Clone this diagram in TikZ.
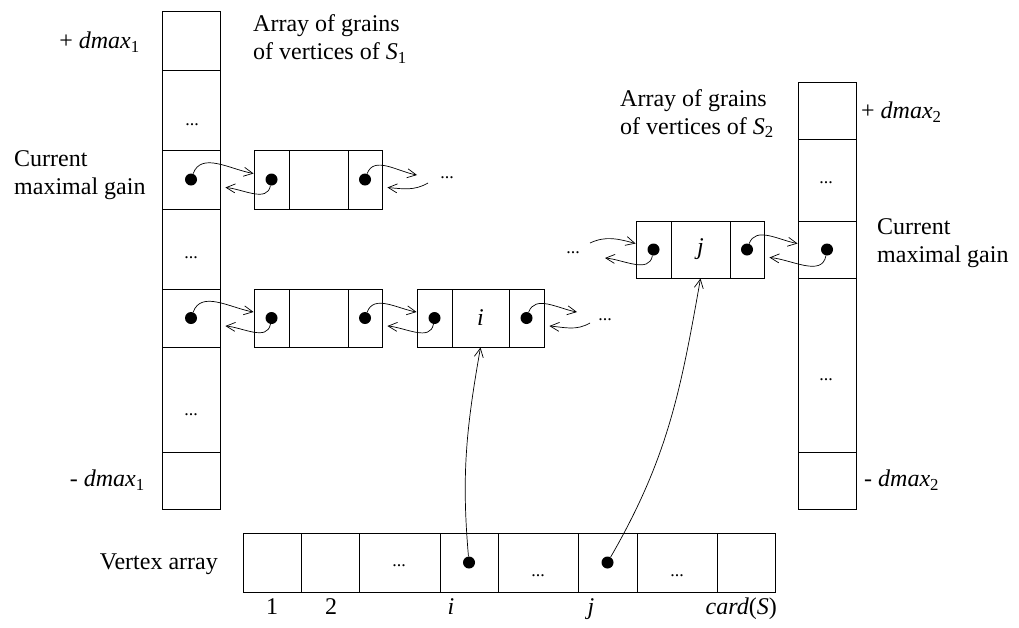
\documentclass[tikz,border=0pt]{standalone}
\usepackage{fontspec}
\setmainfont{Liberation Serif}
\usepackage{tikz}
\usetikzlibrary{arrows.meta}

\begin{document}
\begin{tikzpicture}[x=1pt,y=1pt,font=\fontsize{24}{28}\selectfont]
\tikzstyle{caixa}=[draw, line width=0.9pt, inner sep=0pt]
\tikzstyle{ponto}=[circle, fill, inner sep=0pt, minimum size=12pt]
\tikzstyle{seta}=[line width=0.7pt, -{Straight Barb[length=9pt,width=9pt]}]
\tikzstyle{rotulo}=[inner sep=0pt, align=left]
\tikzstyle{reticencias}=[inner sep=0pt, font=\fontsize{18}{18}\selectfont]
\useasboundingbox (0,0) rectangle (1019,-627);
 % left array
 \node[caixa, minimum width=58pt, minimum height=59pt] (L1) at (191,-40.5) {};
 \node[caixa, minimum width=58pt, minimum height=80pt] (L2) at (191,-110) {};
 \node[caixa, minimum width=58pt, minimum height=59pt] (L3) at (191,-179.5) {};
 \node[caixa, minimum width=58pt, minimum height=80pt] (L4) at (191,-249) {};
 \node[caixa, minimum width=58pt, minimum height=58pt] (L5) at (191,-318) {};
 \node[caixa, minimum width=58pt, minimum height=105pt] (L6) at (191,-399.5) {};
 \node[caixa, minimum width=58pt, minimum height=57pt] (L7) at (191,-480.5) {};
 \node[reticencias] (rL2) at (192,-125) {...};
 \node[reticencias] (rL4) at (191,-258) {...};
 \node[reticencias] (rL6) at (191,-415) {...};
 % right array
 \node[caixa, minimum width=58pt, minimum height=57pt] (R1) at (827,-110.5) {};
 \node[caixa, minimum width=58pt, minimum height=82pt] (R2) at (827,-180) {};
 \node[caixa, minimum width=58pt, minimum height=57pt] (R3) at (827,-249.5) {};
 \node[caixa, minimum width=58pt, minimum height=174pt] (R4) at (827,-365) {};
 \node[caixa, minimum width=58pt, minimum height=57pt] (R5) at (827,-480.5) {};
 \node[reticencias] (rR2) at (826,-183) {...};
 \node[reticencias] (rR4) at (826,-380) {...};
 % lists
 \node[caixa, minimum width=35pt, minimum height=59pt] (A1) at (271.5,-179.5) {};
 \node[caixa, minimum width=59pt, minimum height=59pt] (A2) at (318.5,-179.5) {};
 \node[caixa, minimum width=34pt, minimum height=59pt] (A3) at (365,-179.5) {};
 \node[caixa, minimum width=35pt, minimum height=58pt] (B1) at (271.5,-318) {};
 \node[caixa, minimum width=59pt, minimum height=58pt] (B2) at (318.5,-318) {};
 \node[caixa, minimum width=34pt, minimum height=58pt] (B3) at (365,-318) {};
 \node[caixa, minimum width=35pt, minimum height=58pt] (C1) at (434.5,-318) {};
 \node[caixa, minimum width=57pt, minimum height=58pt] (C2) at (480.5,-318) {\textit{i}};
 \node[caixa, minimum width=35pt, minimum height=58pt] (C3) at (526.5,-318) {};
 \node[caixa, minimum width=35pt, minimum height=57pt] (J1) at (653.5,-249.5) {};
 \node[caixa, minimum width=59pt, minimum height=57pt] (J2) at (700.5,-249.5) {\textit{j}};
 \node[caixa, minimum width=34pt, minimum height=57pt] (J3) at (747,-249.5) {};
 % vertex array
 \foreach \n/\cx/\w in {1/272/58, 2/330/58, 3/399.5/81, 4/469/58, 5/538/80, 6/607.5/59, 7/677/80, 8/746/58}
   \node[caixa, minimum width=\w pt, minimum height=59pt] (V\n) at (\cx,-562.5) {};
 \node[reticencias] (rV3) at (399,-566) {...};
 \node[reticencias] (rV5) at (538,-576) {...};
 \node[reticencias] (rV7) at (677,-576) {...};
 % pointers
 \node[ponto] (pL3) at (L3) {};
 \node[ponto] (pL5) at (L5) {};
 \node[ponto] (pA1) at (A1) {};
 \node[ponto] (pA3) at (A3) {};
 \node[ponto] (pB1) at (B1) {};
 \node[ponto] (pB3) at (B3) {};
 \node[ponto] (pC1) at (C1) {};
 \node[ponto] (pC3) at (C3) {};
 \node[ponto] (pJ1) at (J1) {};
 \node[ponto] (pJ3) at (J3) {};
 \node[ponto] (pR3) at (R3) {};
 \node[ponto] (pV4) at (V4) {};
 \node[ponto] (pV6) at (V6) {};
 \coordinate (fA) at (417,-175);
 \coordinate (bA) at (428,-183);
 \coordinate (fC) at (577,-312);
 \coordinate (bC) at (590,-323);
 \coordinate (fJ) at (590,-243);
 \coordinate (bJ) at (605,-258);
 \node[reticencias] (rA) at (447,-178) {...};
 \node[reticencias] (rC) at (605,-320) {...};
 \node[reticencias] (rJ) at (573,-253) {...};
 \draw[seta] (pL3) to[out=70,in=170] ([yshift=6pt]A1.west);
 \draw[seta] (pA1) to[out=-100,in=-5] ([xshift=5pt,yshift=-8pt]L3.east);
 \draw[seta] (pA3) to[out=70,in=170] (fA);
 \draw[seta] (bA) to[out=-150,in=-5] ([xshift=5pt,yshift=-8pt]A3.east);
 \draw[seta] (pL5) to[out=70,in=170] ([yshift=6pt]B1.west);
 \draw[seta] (pB1) to[out=-100,in=-5] ([xshift=5pt,yshift=-8pt]L5.east);
 \draw[seta] (pB3) to[out=70,in=170] ([yshift=6pt]C1.west);
 \draw[seta] (pC1) to[out=-100,in=-5] ([xshift=5pt,yshift=-8pt]B3.east);
 \draw[seta] (pC3) to[out=70,in=170] (fC);
 \draw[seta] (bC) to[out=-150,in=-5] ([xshift=5pt,yshift=-8pt]C3.east);
 \draw[seta] (fJ) to[out=25,in=165] ([yshift=6pt]J1.west);
 \draw[seta] (pJ1) to[out=-100,in=-5] (bJ);
 \draw[seta] (pJ3) to[out=70,in=170] ([yshift=6pt]R3.west);
 \draw[seta] (pR3) to[out=-100,in=-5] ([xshift=5pt,yshift=-8pt]J3.east);
 \draw[seta] (pV4) to[out=95,in=-100] (C2.south);
 \draw[seta] (pV6) to[out=60,in=-100] (J2.south);
 % labels
 \node[rotulo, anchor=east] (max1) at (140,-42) {+ \textit{dmax}\textsubscript{1}};
 \node[rotulo, anchor=east] (min1) at (145,-480) {- \textit{dmax}\textsubscript{1}};
 \node[rotulo, anchor=west] (max2) at (861,-112) {+ \textit{dmax}\textsubscript{2}};
 \node[rotulo, anchor=west] (min2) at (864,-480) {- \textit{dmax}\textsubscript{2}};
 \node[rotulo, anchor=west] (arranjo1) at (253,-39) {Array of grains\\of vertices of \textit{S}\textsubscript{1}};
 \node[rotulo, anchor=west] (arranjo2) at (620,-113.5) {Array of grains\\of vertices of \textit{S}\textsubscript{2}};
 \node[rotulo, anchor=west] (ganho1) at (14,-175.5) {Current\\maximal gain};
 \node[rotulo, anchor=west] (ganho2) at (877,-243.5) {Current\\maximal gain};
 \node[rotulo, anchor=east] (vertices) at (218,-564) {Vertex array};
 \node[rotulo, anchor=base] (n1) at (272,-614) {1};
 \node[rotulo, anchor=base] (n2) at (331,-614) {2};
 \node[rotulo, anchor=base] (ni) at (451,-614) {\textit{i}};
 \node[rotulo, anchor=base] (nj) at (591,-614) {\textit{j}};
 \node[rotulo, anchor=base east] (ncard) at (777,-614) {\textit{card}(\textit{S})};
\end{tikzpicture}
\end{document}
